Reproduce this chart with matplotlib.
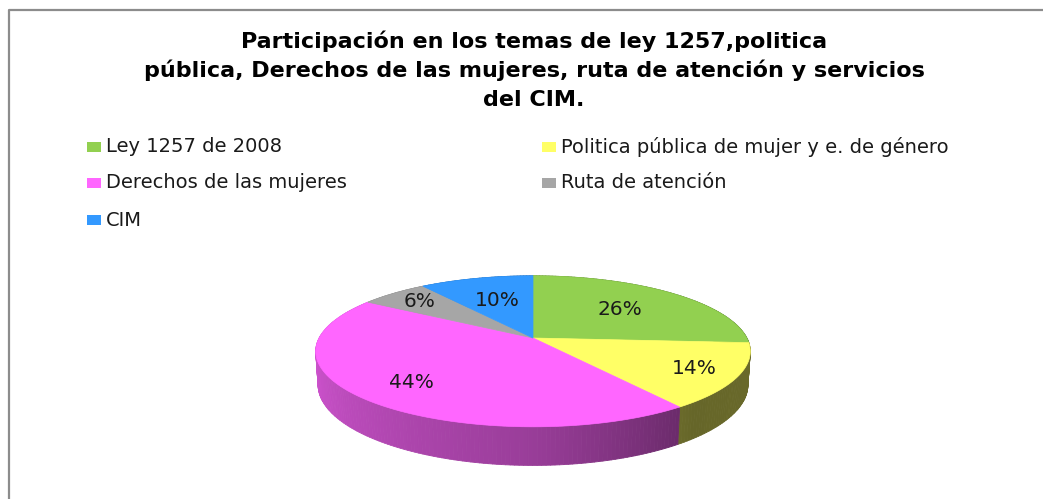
import numpy as np
import matplotlib.pyplot as plt
from matplotlib.patches import Polygon, Rectangle
from matplotlib.collections import PolyCollection
from matplotlib.lines import Line2D
from matplotlib.colors import to_rgb

categories = ['Ley 1257 de 2008',
              'Politica pública de mujer y e. de género',
              'Derechos de las mujeres',
              'Ruta de atención',
              'CIM']
percentages = [26, 14, 44, 6, 10]
colors = ['#92D050', '#FFFF66', '#FF66FF', '#A6A6A6', '#3399FF']
title_lines = ['Participación en los temas de ley 1257,politica',
               'pública, Derechos de las mujeres, ruta de atención y servicios',
               'del CIM.']

W, H = 1043, 499
fig = plt.figure(figsize=(W / 100, H / 100), dpi=100)
fig.patch.set_facecolor('white')

# pie axes, units are pixels measured from the pie centre
cx, cy = 533, 338
ax = fig.add_axes([0, 0, 1, 1])
ax.set_xlim(-cx, W - cx)
ax.set_ylim(-(H - cy), cy)
ax.axis('off')

# simple perspective camera for the 3d look
tilt = np.radians(20)
cam_dist = 5.33
scale = 1140
depth = 0.165


def project(phi, r=1.0, z=0.0):
    x = r * np.cos(phi)
    y = r * np.sin(phi)
    dist = cam_dist + y * np.cos(tilt) - z * np.sin(tilt)
    return scale * x / dist, scale * (y * np.sin(tilt) + z * np.cos(tilt)) / dist


def shade(phi):
    d = np.degrees(phi) % 360
    return np.interp(d, [0, 180, 270, 310, 360], [0.42, 0.84, 0.6, 0.40, 0.42])


total = sum(percentages)
bounds = 90 - 360 * np.concatenate([[0], np.cumsum(percentages)]) / total

# outer walls, drawn back to front
quads, qcols, qkeys = [], [], []
for i, col in enumerate(colors):
    a0, a1 = bounds[i], bounds[i + 1]
    n = max(int(abs(a0 - a1)), 2)
    phis = np.radians(np.linspace(a0, a1, n + 1))
    base = np.array(to_rgb(col))
    for p0, p1 in zip(phis[:-1], phis[1:]):
        pts = [project(p0), project(p1), project(p1, z=-depth), project(p0, z=-depth)]
        quads.append(pts)
        pm = 0.5 * (p0 + p1)
        qcols.append(np.clip(base * shade(pm), 0, 1))
        qkeys.append(np.sin(pm))
order = np.argsort(qkeys)[::-1]
walls = PolyCollection([quads[k] for k in order],
                       facecolors=[qcols[k] for k in order],
                       edgecolors=[qcols[k] for k in order], linewidths=0.6)
ax.add_collection(walls)

# top faces
for i, col in enumerate(colors):
    phis = np.radians(np.linspace(bounds[i], bounds[i + 1], 120))
    u, v = project(phis)
    pts = np.column_stack([np.r_[0, u], np.r_[0, v]])
    ax.add_patch(Polygon(pts, closed=True, facecolor=col, edgecolor=col, linewidth=0.5))

# percentage labels
label_r = [0.6, 0.8, 0.75, 0.8, 0.6]
for i, pct in enumerate(percentages):
    mid = np.radians(0.5 * (bounds[i] + bounds[i + 1]))
    u, v = project(mid, r=label_r[i])
    ax.text(u, v, f'{pct}%', ha='center', va='center', fontsize=14.5, color='#1a1a1a')

# title
for k, line in enumerate(title_lines):
    fig.text(534 / W, 1 - (48 + 29 * k) / H, line, ha='center', va='baseline',
             fontsize=16, fontweight='bold', color='black')

# legend, two columns, row-major like the original
col_x = [87, 542]
row_y = [147, 183, 220]
for i, (lab, col) in enumerate(zip(categories, colors)):
    x = col_x[i % 2]
    y = row_y[i // 2]
    fig.patches.append(Rectangle((x / W, 1 - (y + 5) / H), 14 / W, 10 / H,
                                 transform=fig.transFigure, facecolor=col, edgecolor='none'))
    fig.text((x + 19) / W, 1 - y / H, lab, ha='left', va='center', fontsize=14, color='#1a1a1a')

# chart frame (runs off the right and bottom edges)
fig.add_artist(Line2D([9 / W, 9 / W, 1.05], [-0.05, 1 - 10 / H, 1 - 10 / H],
                      transform=fig.transFigure, color='#8C8C8C', linewidth=1.6))

fig.savefig('out.png', dpi=100)
